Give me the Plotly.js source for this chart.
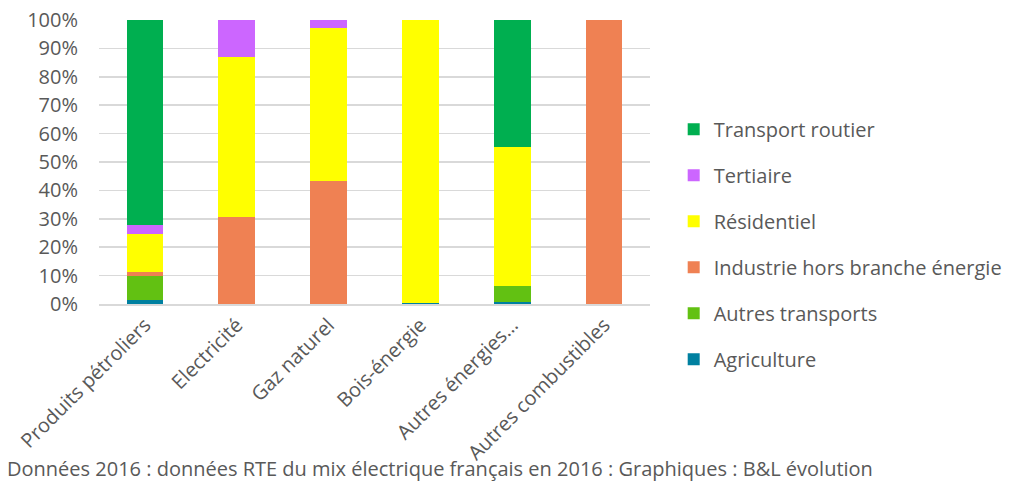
<!DOCTYPE html>
<html>
<head>
<meta charset="utf-8">
<script src="https://cdn.plot.ly/plotly-3.0.1.min.js"></script>
<style>
  html, body { margin: 0; padding: 0; background: #fff; }
  #chart { width: 1031px; height: 486px; }
</style>
</head>
<body>
<div id="chart"></div>
<script>
const categories = ['Produits pétroliers', 'Electricité', 'Gaz naturel', 'Bois-énergie', 'Autres énergies…', 'Autres combustibles'];

// share of each sector (%)
const agriculture = [1.5, 0, 0, 0.5, 0.8, 0];
const autresTransports = [8.5, 0, 0, 0, 5.4, 0];
const industrie = [1.3, 30.5, 43.3, 0, 0, 100];
const residentiel = [13.5, 56.5, 53.9, 99.5, 49.1, 0];
const tertiaire = [3.0, 13.0, 2.8, 0, 0, 0];
const transportRoutier = [72.2, 0, 0, 0, 44.7, 0];

const FONT = 'Open Sans, Lato, sans-serif';
const GREY = '#595959';

const series = [
  { name: 'Agriculture', y: agriculture, color: '#0080a0' },
  { name: 'Autres transports', y: autresTransports, color: '#62c112' },
  { name: 'Industrie hors branche énergie', y: industrie, color: '#ef8153' },
  { name: 'Résidentiel', y: residentiel, color: '#ffff00' },
  { name: 'Tertiaire', y: tertiaire, color: '#cc66ff' },
  { name: 'Transport routier', y: transportRoutier, color: '#00af50' },
];

// stacked bottom-up, but listed top-down in the legend
const data = series.map((s, i) => ({
  type: 'bar',
  name: s.name,
  x: categories,
  y: s.y.map(v => v / 100),
  legendgroup: 'g' + i,
  legendrank: 100 - i,
  marker: { color: s.color, line: { width: 0 } },
  hovertemplate: '%{x}<br>' + s.name + ': %{y:.1%}<extra></extra>',
}));

const layout = {
  width: 1031,
  height: 486,
  margin: { l: 99, r: 381, t: 20, b: 182 },
  paper_bgcolor: '#fff',
  plot_bgcolor: '#fff',
  font: { family: FONT, color: GREY, size: 20 },
  barmode: 'stack',
  bargap: 0.6,
  showlegend: true,
  legend: {
    x: 1.043,
    xanchor: 'left',
    y: 0.21,
    yanchor: 'middle',
    traceorder: 'grouped',
    tracegroupgap: 17,
    font: { family: FONT, size: 20, color: GREY },
    bgcolor: 'rgba(0,0,0,0)',
  },
  xaxis: {
    type: 'category',
    tickangle: -45,
    tickfont: { family: FONT, size: 20, color: GREY },
    showgrid: false,
    showline: true,
    linecolor: '#d9d9d9',
    linewidth: 1.5,
    ticks: '',
  },
  yaxis: {
    range: [0, 1],
    dtick: 0.1,
    tickformat: '.0%',
    tickfont: { family: FONT, size: 20, color: GREY },
    showgrid: true,
    gridcolor: '#d9d9d9',
    gridwidth: 1.5,
    zeroline: false,
    showline: false,
    ticks: '',
    ticklabelstandoff: 20,
  },
  annotations: [{
    text: 'Données 2016 : données RTE du mix électrique français en 2016 : Graphiques : B&L évolution',
    xref: 'paper',
    yref: 'paper',
    x: -0.17,
    xanchor: 'left',
    y: -0.58,
    yanchor: 'middle',
    showarrow: false,
    font: { family: FONT, size: 20, color: GREY },
  }],
};

Plotly.newPlot('chart', data, layout, { displayModeBar: false, staticPlot: true });
</script>
</body>
</html>
